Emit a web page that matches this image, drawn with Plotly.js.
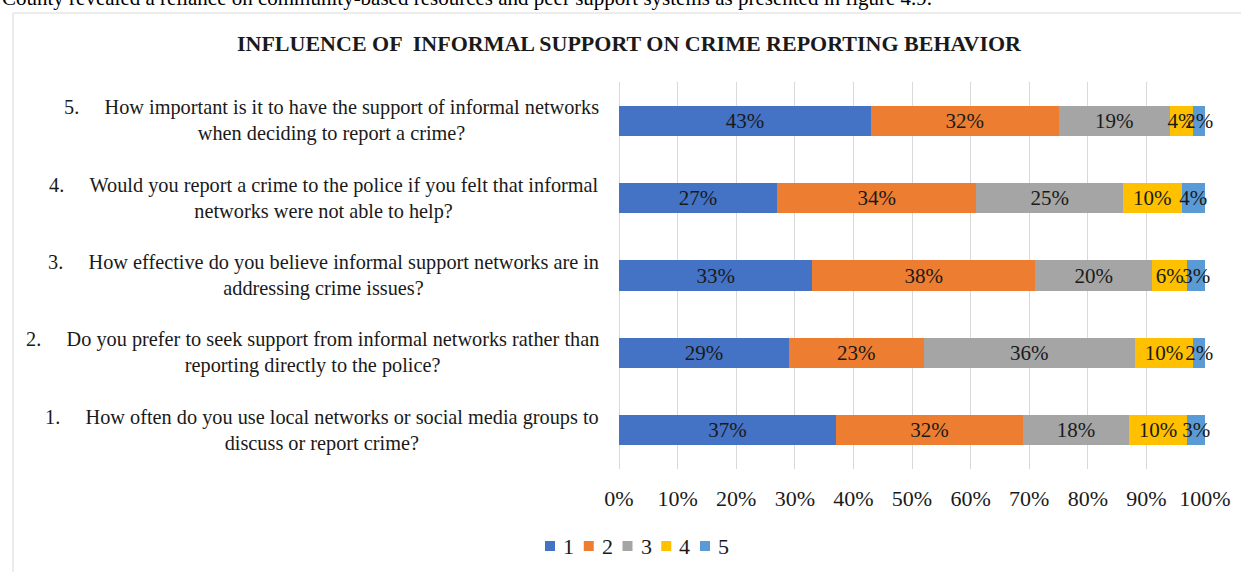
<!DOCTYPE html>
<html>
<head>
<meta charset="utf-8">
<script src="https://cdn.plot.ly/plotly-3.0.1.min.js"></script>
<style>
html,body{margin:0;padding:0;background:#fff;}
#chart{width:1241px;height:572px;}
</style>
</head>
<body>
<div id="chart"></div>
<script>
// Categories (bottom to top)
const questions = [
  "Q1", "Q2", "Q3", "Q4", "Q5"
];
const questionLabels = [
  "1.\u00a0\u00a0\u00a0\u00a0\u00a0How often do you use local networks or social media groups to<br>discuss or report crime?",
  "2.\u00a0\u00a0\u00a0\u00a0\u00a0Do you prefer to seek support from informal networks rather than<br>reporting directly to the police?",
  "3.\u00a0\u00a0\u00a0\u00a0\u00a0How effective do you believe informal support networks are in<br>addressing crime issues?",
  "4.\u00a0\u00a0\u00a0\u00a0\u00a0Would you report a crime to the police if you felt that informal<br>networks were not able to help?",
  "5.\u00a0\u00a0\u00a0\u00a0\u00a0How important is it to have the support of informal networks<br>when deciding to report a crime?"
];
const seriesNames = ["1", "2", "3", "4", "5"];
const rating1 = [37, 29, 33, 27, 43];
const rating2 = [32, 23, 38, 34, 32];
const rating3 = [18, 36, 20, 25, 19];
const rating4 = [10, 10, 6, 10, 4];
const rating5 = [3, 2, 3, 4, 2];
const seriesColors = ["#4472C4", "#ED7D31", "#A5A5A5", "#FFC000", "#5B9BD5"];
const tickVals = [0, 10, 20, 30, 40, 50, 60, 70, 80, 90, 100];
const tickText = ["0%", "10%", "20%", "30%", "40%", "50%", "60%", "70%", "80%", "90%", "100%"];

const FONT = "'Liberation Serif', 'Times New Roman', serif";
const W = 1241, H = 572;
const L = 619, R = 36, T = 82, B = 103;
const pw = W - L - R, ph = H - T - B;
const px = x => (x - L) / pw;
const py = y => (H - B - y) / ph;

const allSeries = [rating1, rating2, rating3, rating4, rating5];
const traces = allSeries.map((vals, i) => ({
  type: 'bar',
  orientation: 'h',
  name: seriesNames[i],
  y: questions,
  x: vals,
  marker: {color: seriesColors[i]},
  text: vals.map(v => v + '%'),
  textposition: 'inside',
  insidetextanchor: 'middle',
  textangle: 0,
  constraintext: 'none',
  cliponaxis: false,
  textfont: {family: FONT, size: 21, color: '#1a1a1a'},
  hoverinfo: 'skip',
  showlegend: false
}));

const annotations = questions.map((q, i) => ({
  xref: 'paper', yref: 'y',
  x: px(601), y: q,
  xanchor: 'right', yanchor: 'middle',
  text: questionLabels[i],
  align: 'center',
  showarrow: false,
  font: {family: FONT, size: 20.3, color: '#1a1a1a'}
}));
annotations.push({
  xref: 'paper', yref: 'paper',
  x: px(0), y: py(-2),
  xanchor: 'left', yanchor: 'middle',
  text: 'County revealed a reliance on community-based resources and peer support systems as presented in figure 4.9.',
  showarrow: false,
  font: {family: FONT, size: 21, color: '#000'}
});

const shapes = [
  {type: 'line', xref: 'paper', yref: 'paper', x0: px(13), x1: px(1245), y0: py(13), y1: py(13), line: {color: '#d9d9d9', width: 1}},
  {type: 'line', xref: 'paper', yref: 'paper', x0: px(13), x1: px(13), y0: py(13), y1: py(580), line: {color: '#d9d9d9', width: 1}}
];

// Legend keys (drawn as layout items)
const legStep = 38.75, legX0 = 545, legY = 546;
seriesNames.forEach((n, i) => {
  const x0 = legX0 + i * legStep;
  shapes.push({type: 'rect', xref: 'paper', yref: 'paper',
    x0: px(x0), x1: px(x0 + 10), y0: py(legY - 5), y1: py(legY + 5),
    fillcolor: seriesColors[i], line: {width: 0}});
  annotations.push({xref: 'paper', yref: 'paper', x: px(x0 + 16), y: py(legY),
    xanchor: 'left', yanchor: 'middle', text: n, showarrow: false,
    font: {family: FONT, size: 22, color: '#1a1a1a'}});
});

const layout = {
  width: W, height: H,
  margin: {l: L, r: R, t: T, b: B, pad: 0},
  paper_bgcolor: '#fff',
  plot_bgcolor: '#fff',
  barmode: 'stack',
  bargap: 0.61,
  showlegend: false,
  title: {
    text: '<b>INFLUENCE OF  INFORMAL SUPPORT ON CRIME REPORTING BEHAVIOR</b>',
    font: {family: FONT, size: 22, color: '#1a1a1a'},
    xref: 'container', yref: 'container',
    x: 629 / W, y: 1 - 43 / H,
    xanchor: 'center', yanchor: 'middle'
  },
  xaxis: {
    range: [0, 100],
    tickvals: tickVals,
    ticktext: tickText,
    showgrid: true,
    gridcolor: '#d9d9d9',
    gridwidth: 1,
    zeroline: true,
    zerolinecolor: '#d9d9d9',
    zerolinewidth: 1,
    showline: false,
    ticks: '',
    ticklabelstandoff: 14,
    tickfont: {family: FONT, size: 22, color: '#1a1a1a'},
    fixedrange: true
  },
  yaxis: {
    type: 'category',
    categoryorder: 'array',
    categoryarray: questions,
    showticklabels: false,
    showgrid: false,
    zeroline: false,
    showline: false,
    ticks: '',
    fixedrange: true
  },
  annotations: annotations,
  shapes: shapes
};

Plotly.newPlot('chart', traces, layout, {staticPlot: true, displayModeBar: false});
</script>
</body>
</html>
